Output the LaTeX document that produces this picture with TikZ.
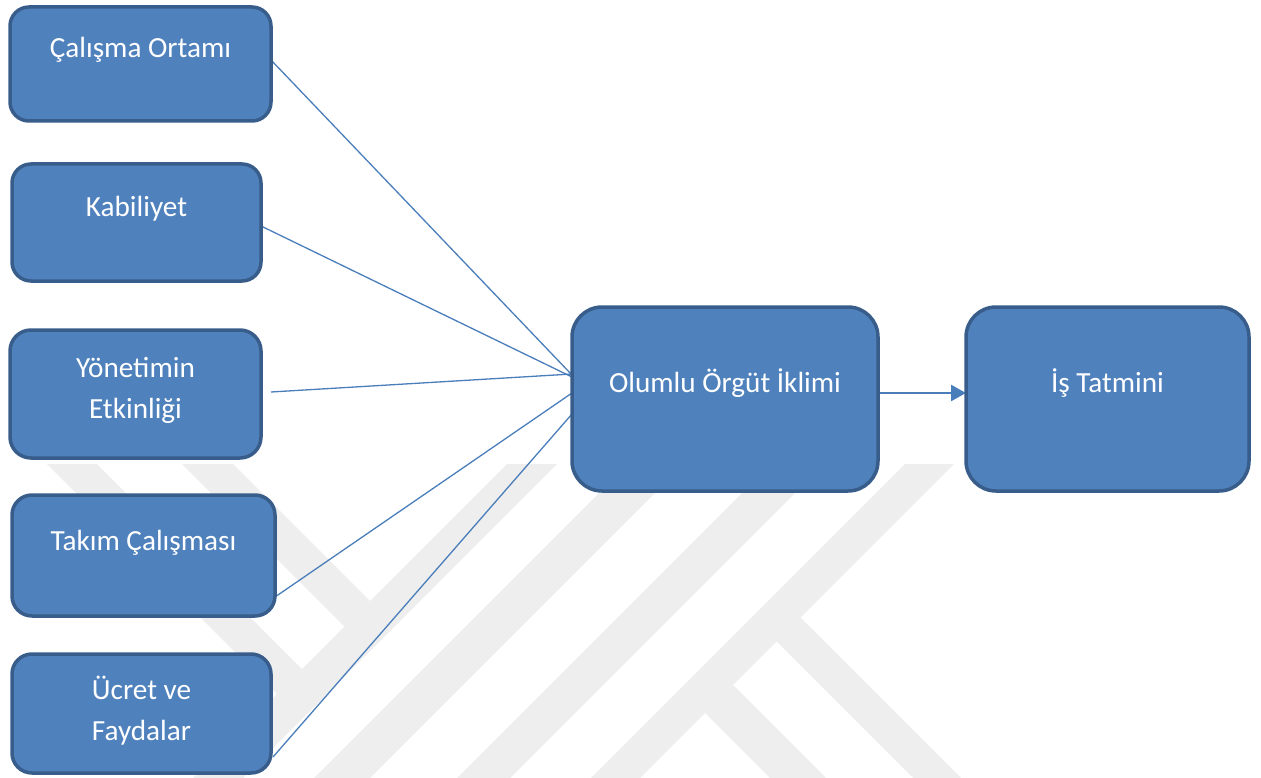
\documentclass[tikz,border=0pt]{standalone}
\usepackage{fontspec}
\setmainfont{Carlito}
\usetikzlibrary{arrows.meta,backgrounds}
\definecolor{boxfill}{HTML}{4F81BD}
\definecolor{boxline}{HTML}{385D8A}
\definecolor{linkc}{HTML}{4A7EBB}
\definecolor{wm}{HTML}{EEEEEE}
\begin{document}
\begin{tikzpicture}[x=1pt,y=-1pt,
  box/.style={draw=boxline, line width=3.5pt, fill=boxfill, rounded corners=#1,
              inner sep=0pt, outer sep=0pt},
  lbl/.style={text=white, font=\fontsize{29.2}{41}\selectfont, inner sep=0pt,
              anchor=base, align=center},
  link/.style={draw=linkc, line width=1.3pt},
  flow/.style={draw=linkc, line width=2.6pt, -{Triangle[length=15pt,width=16pt]}},
  wmark/.style={fill=wm, draw=none}]
\useasboundingbox (0,0) rectangle (1261,778);

% input factors
\node[box=19pt, minimum width=261pt, minimum height=114pt] (b1) at (140.5,64) {};
\node[box=19pt, minimum width=249pt, minimum height=117pt] (b2) at (136.5,222.5) {};
\node[box=21pt, minimum width=251pt, minimum height=128pt] (b3) at (135.5,394) {};
\node[box=20pt, minimum width=263pt, minimum height=121pt] (b4) at (143.5,555.5) {};
\node[box=20pt, minimum width=259pt, minimum height=119pt] (b5) at (141.5,713.5) {};
% climate and outcome
\node[box=30pt, minimum width=306pt, minimum height=184pt] (b6) at (725,399) {};
\node[box=30pt, minimum width=283pt, minimum height=184pt] (b7) at (1107.5,399) {};

% labels (two-line labels sit on the baseline of their last line)
\node[lbl] (t1) at (140.5,58) {Çalışma Ortamı};
\node[lbl] (t2) at (136.5,217) {Kabiliyet};
\node[lbl] (t3) at (135.5,418) {Yönetimin\\Etkinliği};
\node[lbl] (t4) at (143.5,550) {Takım Çalışması};
\node[lbl] (t5) at (141.5,740) {Ücret ve\\Faydalar};
\node[lbl] (t6) at (725,392) {Olumlu Örgüt İklimi};
\node[lbl] (t7) at (1107.5,392) {İş Tatmini};

\begin{pgfonlayer}{background}
  % faint logo stripes behind the chart
  \fill[wmark] (507,464) -- (557,464) -- (243,778) -- (193,778) -- cycle;
  \fill[wmark] (47,464) -- (97,464) -- (302,669) -- (277,694) -- cycle;
  \fill[wmark] (182,464) -- (233,464) -- (370,601) -- (344.5,626.5) -- cycle;
  \fill[wmark] (628,464) -- (684,464) -- (370,778) -- (314,778) -- cycle;
  \fill[wmark] (771,464) -- (824,464) -- (510,778) -- (457,778) -- cycle;
  \fill[wmark] (905,464) -- (954,464) -- (640,778) -- (591,778) -- cycle;
  \fill[wmark] (800.5,617.5) -- (961,778) -- (913,778) -- (776.5,641.5) -- cycle;
  \fill[wmark] (733,685) -- (826,778) -- (770,778) -- (705,713) -- cycle;

  % connectors
  \draw[link] ([yshift=4pt]b1.east) -- ([yshift=24pt]b6.west);
  \draw[link] ([yshift=-3.5pt]b2.east) -- ([yshift=22pt]b6.west);
  \draw[link] ([xshift=10pt,yshift=2pt]b3.east) -- ([yshift=25pt]b6.west);
  \draw[link] ([yshift=-41.5pt]b4.east) -- ([yshift=6pt]b6.west);
  \draw[link] ([xshift=2pt,yshift=-43.5pt]b5.east) -- ([yshift=-15pt]b6.west);
  \draw[flow] ([yshift=6pt]b6.east) -- ([yshift=6pt]b7.west);
\end{pgfonlayer}
\end{tikzpicture}
\end{document}
